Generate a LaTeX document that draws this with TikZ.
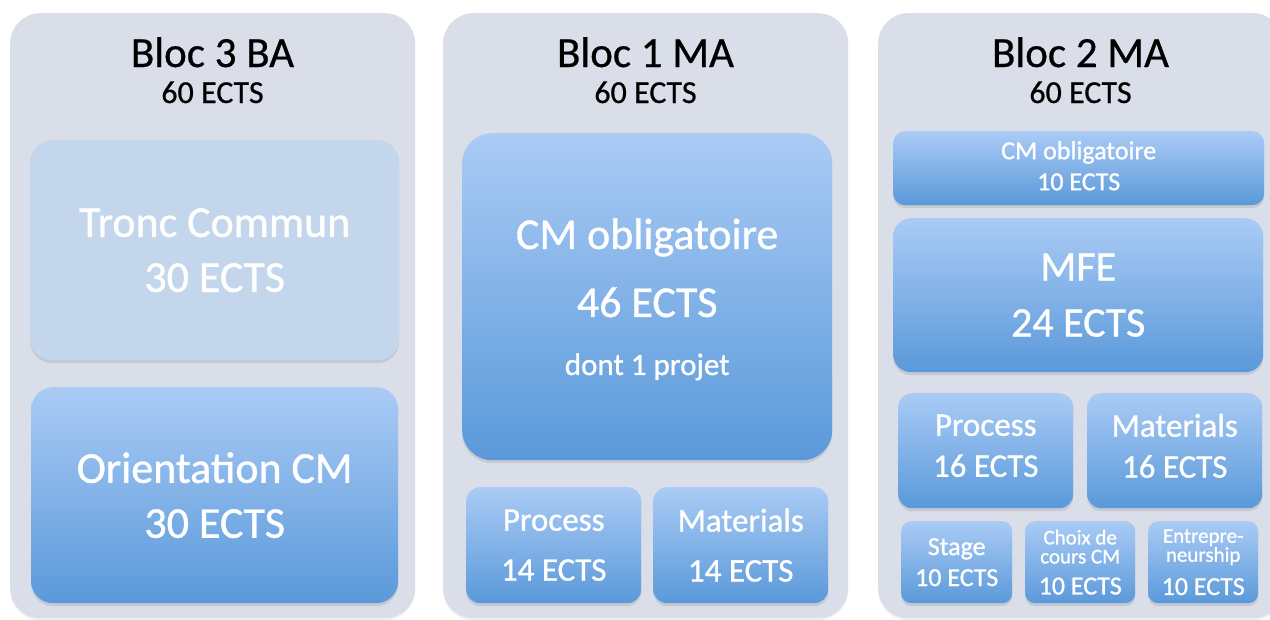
\documentclass[tikz,border=0pt]{standalone}
\usepackage{fontspec}
\setmainfont{Carlito}
\newfontfamily\boxfont[FakeBold=0.9]{Carlito}
\newfontfamily\headfont[FakeBold=0.6]{Carlito}
\usetikzlibrary{shadows}

\definecolor{panelgrey}{HTML}{D9DEE9}
\definecolor{palebox}{HTML}{C4D6EC}
\definecolor{boxtop}{HTML}{AACBF5}
\definecolor{boxbottom}{HTML}{5A99DA}

\newcommand{\fsz}[2]{\fontsize{#1}{#2}\selectfont}

\tikzset{
	panel/.style={draw=none, fill=panelgrey, rounded corners=30pt, inner sep=0pt, anchor=north west,
		minimum width=405, minimum height=605,
		drop shadow={shadow xshift=0pt, shadow yshift=-2pt, opacity=0.12}},
	blocbox/.style={draw=none, top color=boxtop, bottom color=boxbottom, text=white, align=center,
		inner sep=0pt, anchor=north west,
		drop shadow={shadow xshift=0pt, shadow yshift=-3pt, opacity=0.22}},
	flatbox/.style={blocbox, top color=palebox, bottom color=palebox},
	title/.style={anchor=base, font=\headfont\fsz{43}{50}},
	ects/.style={anchor=base, font=\headfont\fsz{32}{38}}
}

\begin{document}
\begin{tikzpicture}[x=1pt, y=-1pt]
	\useasboundingbox (0,0) rectangle (1270,619);
	\clip (0,0) rectangle (1270,619);
	% Panels
	\foreach \x/\name/\txt in {10/bloc3/Bloc 3 BA, 443/bloc1/Bloc 1 MA, 878/bloc2/Bloc 2 MA} {
		\node [panel] (\name) at (\x,13) {};
		\node [title] (\name-title) at (\x+202.5,67) {\txt};
		\node [ects] (\name-ects) at (\x+202.5,103) {60 ECTS};
	}
	% Bloc 3 BA
	\node [flatbox, rounded corners=22pt, minimum width=369, minimum height=220, font=\boxfont\fsz{44}{55}]
		(tronc) at (30,140) {Tronc Commun\\30 ECTS};
	\node [blocbox, rounded corners=22pt, minimum width=367, minimum height=216, font=\boxfont\fsz{44}{55}]
		(orient) at (31,387) {Orientation CM\\30 ECTS};
	% Bloc 1 MA
	\node [blocbox, rounded corners=30pt, minimum width=370, minimum height=327, font=\boxfont\fsz{44}{56},
		text depth=-8pt] (cm46) at (462,133) {CM obligatoire\\[12pt]46 ECTS\\[2pt]{\fsz{31}{38}dont 1 projet}};
	\node [blocbox, rounded corners=14pt, minimum width=175, minimum height=116, font=\boxfont\fsz{33}{50}]
		(proc14) at (466,487) {Process\\14 ECTS};
	\node [blocbox, rounded corners=14pt, minimum width=175, minimum height=116, font=\boxfont\fsz{33}{50}]
		(mat14) at (653,487) {Materials\\14 ECTS};
	% Bloc 2 MA
	\node [blocbox, rounded corners=12pt, minimum width=371, minimum height=74, font=\boxfont\fsz{26}{31},
		text depth=5pt] (cm10) at (893,131) {CM obligatoire\\10 ECTS};
	\node [blocbox, rounded corners=18pt, minimum width=370, minimum height=154, font=\boxfont\fsz{42}{56}]
		(mfe) at (893,218) {MFE\\24 ECTS};
	\node [blocbox, rounded corners=14pt, minimum width=175, minimum height=115, font=\boxfont\fsz{33}{41},
		text depth=10pt] (proc16) at (898,393) {Process\\16 ECTS};
	\node [blocbox, rounded corners=14pt, minimum width=175, minimum height=115, font=\boxfont\fsz{33}{41},
		text depth=10pt] (mat16) at (1087,393) {Materials\\16 ECTS};
	\node [blocbox, rounded corners=10pt, minimum width=111, minimum height=82, font=\boxfont\fsz{26}{31}]
		(stage) at (901,521) {Stage\\10 ECTS};
	\node [blocbox, rounded corners=10pt, minimum width=110, minimum height=82, font=\boxfont\fsz{21}{19}]
		(choix) at (1025,521) {Choix de\\cours CM\\[12pt]{\fsz{26}{31}10 ECTS}};
	\node [blocbox, rounded corners=10pt, minimum width=110, minimum height=82, font=\boxfont\fsz{21}{19}]
		(entre) at (1148,521) {Entrepre-\\neurship\\[12pt]{\fsz{26}{31}10 ECTS}};
\end{tikzpicture}
\end{document}
